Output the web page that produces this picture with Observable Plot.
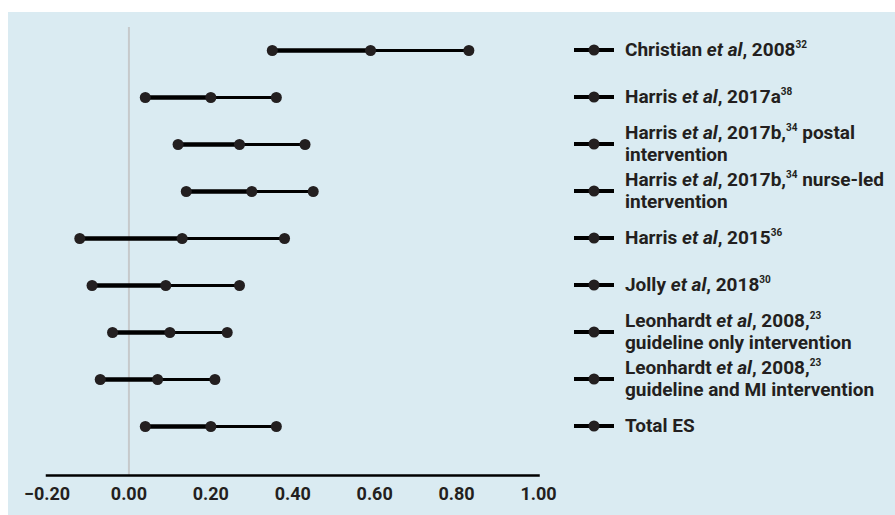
<!DOCTYPE html>
<html>
<head>
<meta charset="utf-8">
<script src="https://cdn.jsdelivr.net/npm/d3@7"></script>
<script src="https://cdn.jsdelivr.net/npm/@observablehq/plot@0.6"></script>
<style>
  html, body { margin: 0; padding: 0; background: #ffffff; }
  #wrap { position: absolute; left: 8px; top: 12px; width: 887px; height: 503px; background: #daebf2; overflow: hidden; }
  #wrap > svg { position: absolute; left: 0; top: 0; }
  .lg { position: absolute; left: 566px; transform: translateY(-50%); display: flex; align-items: center;
        font-family: Roboto, sans-serif; font-weight: 700; font-size: 19px; line-height: 22px; color: #231f20; white-space: nowrap; }
  .lg svg.mk { position: static; flex: none; margin-right: 11px; }
  .lg sup { font-size: 10px; line-height: 0; vertical-align: 0; position: relative; top: -8px; }
</style>
</head>
<body>
<div id="wrap"></div>
<script>
const studies = [
  "Christian et al, 2008",
  "Harris et al, 2017a",
  "Harris et al, 2017b, postal intervention",
  "Harris et al, 2017b, nurse-led intervention",
  "Harris et al, 2015",
  "Jolly et al, 2018",
  "Leonhardt et al, 2008, guideline only intervention",
  "Leonhardt et al, 2008, guideline and MI intervention",
  "Total ES"
];
const low  = [0.35, 0.04, 0.12, 0.14, -0.12, -0.09, -0.04, -0.07, 0.04];
const es   = [0.59, 0.20, 0.27, 0.30,  0.13,  0.09,  0.10,  0.07, 0.20];
const high = [0.83, 0.36, 0.43, 0.45,  0.38,  0.27,  0.24,  0.21, 0.36];
const labels = [
  "Christian <i>et al</i>, 2008<sup>32</sup>",
  "Harris <i>et al</i>, 2017a<sup>38</sup>",
  "Harris <i>et al</i>, 2017b,<sup>34</sup> postal<br>intervention",
  "Harris <i>et al</i>, 2017b,<sup>34</sup> nurse-led<br>intervention",
  "Harris <i>et al</i>, 2015<sup>36</sup>",
  "Jolly <i>et al</i>, 2018<sup>30</sup>",
  "Leonhardt <i>et al</i>, 2008,<sup>23</sup><br>guideline only intervention",
  "Leonhardt <i>et al</i>, 2008,<sup>23</sup><br>guideline and MI intervention",
  "Total ES"
];
const xTicks = [-0.2, 0, 0.2, 0.4, 0.6, 0.8, 1.0];

const data = studies.map((s, i) => ({study: s, low: low[i], es: es[i], high: high[i]}));
const ink = "#231f20";

const plot = Plot.plot({
  width: 887,
  height: 503,
  marginLeft: 38.5,
  marginRight: 357,
  marginTop: 15,
  marginBottom: 40,
  style: {background: "transparent", fontFamily: "Roboto, sans-serif", fontSize: "18px", fontWeight: 700, color: ink},
  x: {domain: [-0.2, 1.0]},
  y: {type: "point", domain: studies, range: [38, 414], padding: 0, axis: null},
  marks: [
    Plot.ruleX([0], {stroke: "#c6c9cb", strokeWidth: 2}),
    Plot.frame({anchor: "bottom", stroke: "#000", strokeWidth: 2.5}),
    Plot.axisX({ticks: xTicks, tickFormat: d3.format(".2f"), tickSize: 0, tickPadding: 12, fill: ink}),
    Plot.link(data, {x1: "low", x2: "es", y1: "study", y2: "study", stroke: "#000", strokeWidth: 4.5}),
    Plot.link(data, {x1: "es", x2: "high", y1: "study", y2: "study", stroke: "#000", strokeWidth: 3}),
    Plot.dot(data, {x: "low", y: "study", r: 5.5, fill: ink}),
    Plot.dot(data, {x: "es", y: "study", r: 5.5, fill: ink}),
    Plot.dot(data, {x: "high", y: "study", r: 5.5, fill: ink})
  ]
});

const wrap = document.getElementById("wrap");
wrap.appendChild(plot);
const yScale = plot.scale("y");
studies.forEach((s, i) => {
  const div = document.createElement("div");
  div.className = "lg";
  div.style.top = yScale.apply(s) + "px";
  div.innerHTML = '<svg class="mk" width="40" height="12"><line x1="0" x2="40" y1="6" y2="6" stroke="#000" stroke-width="4"/><circle cx="20" cy="6" r="5.5" fill="' + ink + '"/></svg><span>' + labels[i] + '</span>';
  wrap.appendChild(div);
});
</script>
</body>
</html>
